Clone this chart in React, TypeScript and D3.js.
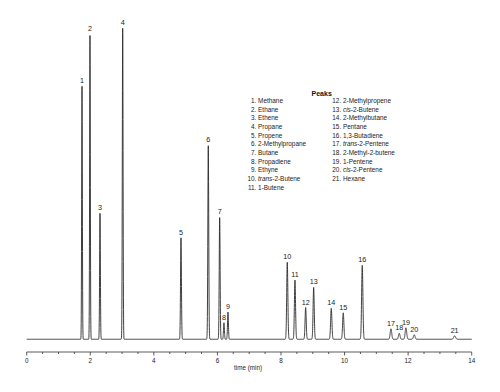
import React from 'react';
import * as d3 from 'd3';

const peakNumbers = [1, 2, 3, 4, 5, 6, 7, 8, 9, 10, 11, 12, 13, 14, 15, 16, 17, 18, 19, 20, 21];
const retentionTimes = [1.74, 1.991, 2.306, 3.02, 4.854, 5.713, 6.071, 6.206, 6.332, 8.198, 8.44, 8.776, 9.028, 9.582, 9.959, 10.557, 11.46, 11.721, 11.931, 12.192, 13.463];
const peakHeights = [253, 305, 126, 311, 101.5, 194, 122, 16.6, 27.3, 77, 59.3, 31.8, 52, 31, 26.5, 74, 10.5, 6, 11.5, 4.5, 3.5];
const peakSigmas = [0.011, 0.011, 0.012, 0.012, 0.014, 0.014, 0.014, 0.014, 0.014, 0.018, 0.018, 0.018, 0.018, 0.02, 0.02, 0.02, 0.024, 0.024, 0.024, 0.026, 0.03];
const compoundNames: [string, string][] = [
  ['', 'Methane'], ['', 'Ethane'], ['', 'Ethene'], ['', 'Propane'], ['', 'Propene'],
  ['', '2-Methylpropane'], ['', 'Butane'], ['', 'Propadiene'], ['', 'Ethyne'],
  ['trans', '-2-Butene'], ['', '1-Butene'], ['', '2-Methylpropene'], ['cis', '-2-Butene'],
  ['', '2-Methylbutane'], ['', 'Pentane'], ['', '1,3-Butadiene'], ['trans', '-2-Pentene'],
  ['', '2-Methyl-2-butene'], ['', '1-Pentene'], ['cis', '-2-Pentene'], ['', 'Hexane'],
];
const xMajorTicks = [0, 2, 4, 6, 8, 10, 12, 14];
const xMinorTicks = d3.range(0, 14.001, 0.5).filter((t) => Math.abs(t % 2) > 1e-6);
const xAxisTitle = 'time (min)';
const legendTitle = 'Peaks';

const FONT = '"Liberation Sans", Arial, sans-serif';

export default function App() {
  const x = d3.scaleLinear().domain([0, 14]).range([26.7, 471.7]);
  const y = d3.scaleLinear().domain([0, 320]).range([339.3, 19.3]);
  const times = d3.range(0, 14.0001, 0.002);
  const signal = (t: number) => {
    let s = 0;
    for (let i = 0; i < retentionTimes.length; i++) {
      const d = (t - retentionTimes[i]) / peakSigmas[i];
      if (Math.abs(d) < 8) s += peakHeights[i] * Math.exp(-0.5 * d * d);
    }
    return s;
  };
  const line = d3.line<number>().x((t) => x(t)).y((t) => y(signal(t)));
  const axisY = 352;
  const rowH = 8.66;
  const row0 = 103;

  return (
    <svg width={500} height={392} style={{ position: 'absolute', left: 0, top: 0, background: '#fff' }} fontFamily={FONT}>
      <rect width={500} height={392} fill="#fff" />
      <path d={line(times) || ''} fill="none" stroke="#2a2a2a" strokeWidth={0.9} strokeLinejoin="round" />
      {peakNumbers.map((n, i) => (
        <text key={n} x={x(retentionTimes[i])} y={y(peakHeights[i]) - 3} fontSize={7.2} textAnchor="middle" fill="#222">
          {n}
        </text>
      ))}
      <line x1={x(0)} x2={x(14)} y1={axisY} y2={axisY} stroke="#333" strokeWidth={0.8} />
      {xMajorTicks.map((t) => (
        <g key={'M' + t}>
          <line x1={x(t)} x2={x(t)} y1={axisY} y2={axisY + 3.5} stroke="#333" strokeWidth={0.8} />
          <text x={x(t)} y={362.7} fontSize={6.3} textAnchor="middle" fill="#222">{t}</text>
        </g>
      ))}
      {xMinorTicks.map((t) => (
        <line key={'m' + t} x1={x(t)} x2={x(t)} y1={axisY} y2={axisY + 2} stroke="#333" strokeWidth={0.8} />
      ))}
      <text x={248} y={369.5} fontSize={6.3} textAnchor="middle" fill="#222">{xAxisTitle}</text>
      <text x={321.7} y={95.7} fontSize={7} fontWeight="bold" textAnchor="middle" fill="#111">{legendTitle}</text>
      {compoundNames.map(([it, rest], i) => {
        const col = i < 11 ? 0 : 1;
        const r = col === 0 ? i : i - 11;
        const numX = col === 0 ? 256.3 : 341.2;
        const nameX = col === 0 ? 258.1 : 343;
        const yy = row0 + r * rowH;
        return (
          <g key={i} fontSize={6.4} fill="#222">
            <text x={numX} y={yy} textAnchor="end">{peakNumbers[i] + '.'}</text>
            <text x={nameX} y={yy}>
              {it ? <tspan fontStyle="italic">{it}</tspan> : null}
              {rest}
            </text>
          </g>
        );
      })}
    </svg>
  );
}
